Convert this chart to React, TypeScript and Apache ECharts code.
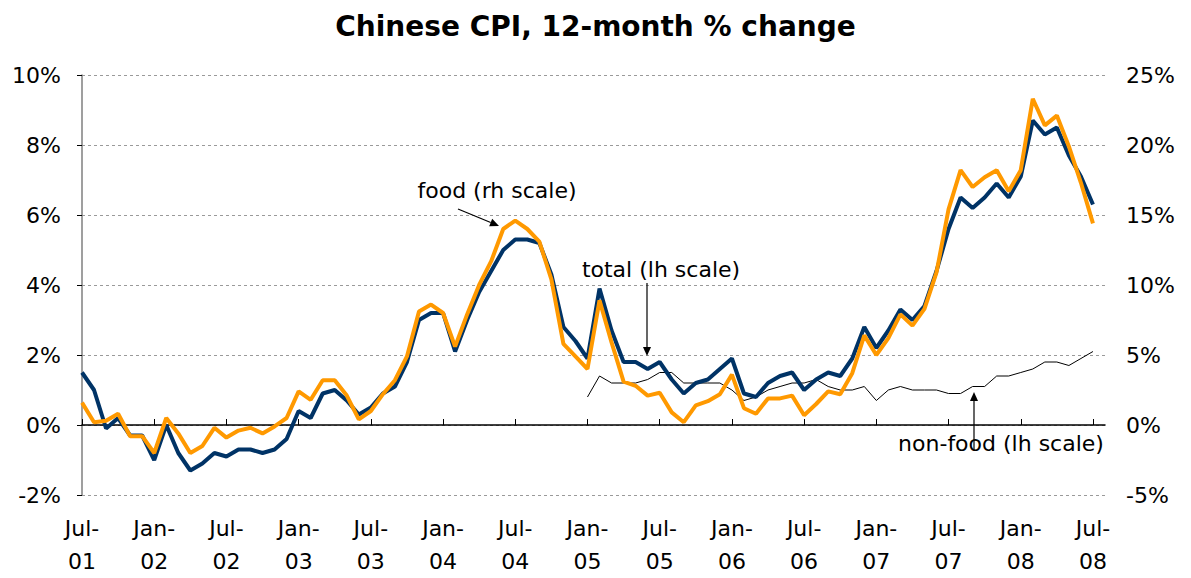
import React, { useEffect, useRef } from "react";
import * as echarts from "echarts";

// Month categories Jul-01 .. Aug-08 (last one is empty space at the right end of the axis)
const monthNames = ["Jan", "Feb", "Mar", "Apr", "May", "Jun", "Jul", "Aug", "Sep", "Oct", "Nov", "Dec"];
const categories: string[] = [];
for (let k = 0; k < 86; k++) {
  const m = (6 + k) % 12;
  const y = 1 + Math.floor((6 + k) / 12);
  categories.push(monthNames[m] + "-\n" + String(y).padStart(2, "0"));
}

// Total CPI, % y/y (left scale), Jul-01 .. Jul-08
const total = [
  1.5, 1.0, -0.1, 0.2, -0.3, -0.3,
  -1.0, 0.0, -0.8, -1.3, -1.1, -0.8, -0.9, -0.7, -0.7, -0.8, -0.7, -0.4,
  0.4, 0.2, 0.9, 1.0, 0.7, 0.3, 0.5, 0.9, 1.1, 1.8, 3.0, 3.2,
  3.2, 2.1, 3.0, 3.8, 4.4, 5.0, 5.3, 5.3, 5.2, 4.3, 2.8, 2.4,
  1.9, 3.9, 2.7, 1.8, 1.8, 1.6, 1.8, 1.3, 0.9, 1.2, 1.3, 1.6,
  1.9, 0.9, 0.8, 1.2, 1.4, 1.5, 1.0, 1.3, 1.5, 1.4, 1.9, 2.8,
  2.2, 2.7, 3.3, 3.0, 3.4, 4.4, 5.6, 6.5, 6.2, 6.5, 6.9, 6.5,
  7.1, 8.7, 8.3, 8.5, 7.7, 7.1, 6.3,
];

// Food CPI, % y/y (right scale), Jul-01 .. Jul-08
const food = [
  1.6, 0.2, 0.3, 0.8, -0.8, -0.8,
  -2.0, 0.5, -0.6, -2.0, -1.5, -0.2, -0.9, -0.4, -0.2, -0.6, -0.1, 0.5,
  2.4, 1.8, 3.2, 3.2, 2.1, 0.4, 1.0, 2.2, 3.2, 4.9, 8.1, 8.6,
  8.0, 5.6, 7.9, 10.0, 11.7, 14.0, 14.6, 14.0, 13.1, 10.4, 5.8, 4.9,
  4.0, 8.9, 5.9, 3.1, 2.8, 2.1, 2.3, 0.9, 0.2, 1.4, 1.7, 2.2,
  3.6, 1.2, 0.8, 1.9, 1.9, 2.1, 0.7, 1.5, 2.4, 2.2, 3.7, 6.4,
  5.0, 6.2, 7.9, 7.1, 8.3, 10.9, 15.4, 18.2, 17.0, 17.7, 18.2, 16.7,
  18.2, 23.3, 21.4, 22.1, 19.9, 17.3, 14.4,
];

// Non-food CPI, % y/y (left scale), Jan-05 .. Jul-08
const nonFoodStartIndex = 42;
const nonFood = [
  0.8, 1.4, 1.2, 1.2, 1.2, 1.3, 1.5, 1.5, 1.2, 1.2, 1.2, 1.2,
  1.0, 0.7, 0.8, 1.0, 1.1, 1.2, 1.2, 1.3, 1.1, 1.0, 1.0, 1.1,
  0.7, 1.0, 1.1, 1.0, 1.0, 1.0, 0.9, 0.9, 1.1, 1.1, 1.4, 1.4,
  1.5, 1.6, 1.8, 1.8, 1.7, 1.9, 2.1,
];

const leftTicks = { min: -2, max: 10, interval: 2 };
const rightTicks = { min: -5, max: 25, interval: 5 };

const FONT = "'DejaVu Sans', 'Liberation Sans', Arial, sans-serif";

function arrowHead(tipX: number, tipY: number, fromX: number, fromY: number, len = 9, half = 4) {
  const dx = tipX - fromX;
  const dy = tipY - fromY;
  const d = Math.sqrt(dx * dx + dy * dy);
  const ux = dx / d;
  const uy = dy / d;
  const bx = tipX - ux * len;
  const by = tipY - uy * len;
  return {
    base: [bx, by],
    points: [
      [tipX, tipY],
      [bx - uy * half, by + ux * half],
      [bx + uy * half, by - ux * half],
    ],
  };
}

function arrow(fromX: number, fromY: number, tipX: number, tipY: number) {
  const h = arrowHead(tipX, tipY, fromX, fromY);
  return [
    {
      type: "line",
      shape: { x1: fromX, y1: fromY, x2: h.base[0], y2: h.base[1] },
      style: { stroke: "#000", lineWidth: 1.2 },
      z: 100,
    },
    {
      type: "polygon",
      shape: { points: h.points },
      style: { fill: "#000" },
      z: 100,
    },
  ];
}

export default function App() {
  const ref = useRef<HTMLDivElement>(null);

  useEffect(() => {
    if (!ref.current) return;
    const chart = echarts.init(ref.current, null, { renderer: "svg" });

    const nonFoodData = categories.map((_, i) =>
      i >= nonFoodStartIndex && i - nonFoodStartIndex < nonFood.length ? nonFood[i - nonFoodStartIndex] : null
    );
    const totalData = categories.map((_, i) => (i < total.length ? total[i] : null));
    const foodData = categories.map((_, i) => (i < food.length ? food[i] : null));

    const labelStyle = { color: "#000", fontSize: 22, fontFamily: FONT };

    chart.setOption({
      animation: false,
      backgroundColor: "#fff",
      title: {
        text: "Chinese CPI, 12-month % change",
        left: "center",
        top: 7,
        textStyle: { color: "#000", fontSize: 28, fontWeight: "bold", fontFamily: FONT },
      },
      grid: { left: 82, right: 86, top: 75, bottom: 81, containLabel: false },
      xAxis: [
        {
          type: "category",
          data: categories,
          boundaryGap: false,
          position: "bottom",
          axisLine: { show: true, onZero: true, onZeroAxisIndex: 0, lineStyle: { color: "#000", width: 1.5 } },
          axisTick: { show: true, inside: true, length: 6, interval: 5, lineStyle: { color: "#000", width: 1 } },
          axisLabel: { show: false },
          splitLine: { show: false },
        },
        {
          type: "category",
          data: categories,
          boundaryGap: false,
          position: "bottom",
          axisLine: { show: false, onZero: false },
          axisTick: { show: false },
          axisLabel: { ...labelStyle, interval: 5, margin: 17, lineHeight: 33 },
          splitLine: { show: false },
        },
      ],
      yAxis: [
        {
          type: "value",
          ...leftTicks,
          position: "left",
          axisLine: { show: true, lineStyle: { color: "#7f7f7f", width: 1.5 } },
          axisTick: { show: true, length: 5, lineStyle: { color: "#000" } },
          axisLabel: { ...labelStyle, margin: 21, formatter: (v: number) => `${v}%` },
          splitLine: { show: true, lineStyle: { color: "#9a9a9a", type: [3, 3], width: 1 } },
        },
        {
          type: "value",
          ...rightTicks,
          position: "right",
          axisLine: { show: false },
          axisTick: { show: false },
          axisLabel: { ...labelStyle, margin: 21, formatter: (v: number) => `${v}%` },
          splitLine: { show: false },
        },
      ],
      series: [
        {
          name: "non-food (lh scale)",
          type: "line",
          xAxisIndex: 0,
          yAxisIndex: 0,
          data: nonFoodData,
          showSymbol: false,
          symbol: "none",
          lineStyle: { color: "#000", width: 1 },
          z: 3,
        },
        {
          name: "total (lh scale)",
          type: "line",
          xAxisIndex: 0,
          yAxisIndex: 0,
          data: totalData,
          showSymbol: false,
          symbol: "none",
          lineStyle: { color: "#003366", width: 4 },
          z: 4,
        },
        {
          name: "food (rh scale)",
          type: "line",
          xAxisIndex: 0,
          yAxisIndex: 1,
          data: foodData,
          showSymbol: false,
          symbol: "none",
          lineStyle: { color: "#FF9900", width: 4 },
          z: 5,
        },
      ],
      graphic: [
        {
          type: "text",
          x: 497,
          y: 190,
          style: { text: "food (rh scale)", fill: "#000", font: `22px ${FONT}`, align: "center", verticalAlign: "middle" },
          z: 100,
        },
        {
          type: "text",
          x: 661,
          y: 269,
          style: { text: "total (lh scale)", fill: "#000", font: `22px ${FONT}`, align: "center", verticalAlign: "middle" },
          z: 100,
        },
        {
          type: "text",
          x: 1001,
          y: 443,
          style: { text: "non-food (lh scale)", fill: "#000", font: `22px ${FONT}`, align: "center", verticalAlign: "middle" },
          z: 100,
        },
        ...arrow(458, 209, 499, 226),
        ...arrow(647, 283, 647, 356),
        ...arrow(974, 450, 974, 392),
      ],
    });

    return () => chart.dispose();
  }, []);

  return (
    <div
      ref={ref}
      style={{ position: "fixed", left: 0, top: 0, width: 1191, height: 578, background: "#fff" }}
    />
  );
}
